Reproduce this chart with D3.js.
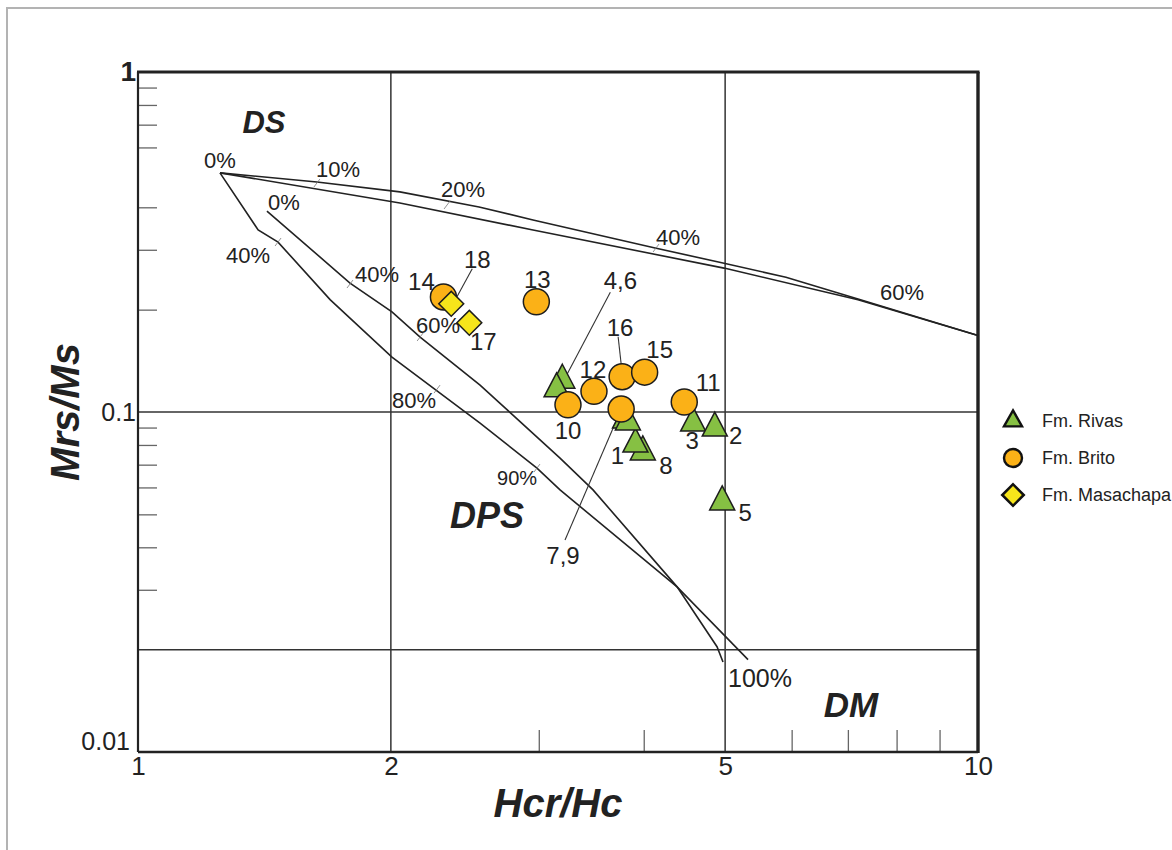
<!DOCTYPE html>
<html>
<head>
<meta charset="utf-8">
<script src="https://cdn.jsdelivr.net/npm/d3@7"></script>
<style>
  body { margin: 0; background: #fff; }
  text { font-family: "Liberation Sans", Arial, sans-serif; fill: #222; }
</style>
</head>
<body>
<div id="chart"></div>
<script>
// ---- data (Hcr/Hc, Mrs/Ms) ----
const xMinorTicks = [3, 4, 6, 7, 8, 9];
const yMinorTicks = [0.9, 0.8, 0.7, 0.6, 0.4, 0.3, 0.2, 0.09, 0.08, 0.07, 0.06, 0.05, 0.04, 0.03];
const xTickLabels = [1, 2, 5, 10];
const yTickLabels = [1, 0.1, 0.01];
const xGrid = [2, 5];
const yGrid = [0.1, 0.02];

// mixing curves
const sdSpUpper = [[1.252, 0.505], [1.633, 0.475], [2.050, 0.444], [2.547, 0.401], [2.953, 0.367],
  [4.114, 0.304], [4.985, 0.274], [5.907, 0.249], [7.197, 0.215], [10, 0.168]];
const sdSpLower = [[1.252, 0.505], [2.050, 0.412], [2.953, 0.343], [4.985, 0.265], [7.197, 0.214], [10, 0.168]];
const sdMdOuter = [[1.252, 0.505], [1.390, 0.343], [1.468, 0.316], [1.693, 0.214], [2.006, 0.145],
  [2.554, 0.0928], [2.985, 0.0684], [3.180, 0.0590], [4.383, 0.0306], [5.324, 0.0187]];
const sdMdInner = [[1.424, 0.390], [1.788, 0.2395], [2.006, 0.197], [2.167, 0.166], [2.554, 0.120],
  [2.698, 0.106], [3.180, 0.0732], [3.481, 0.0590], [4.383, 0.0306], [4.890, 0.0204], [4.971, 0.0184]];

// percent marks along the curves
const pctText = ["0%", "10%", "20%", "40%", "60%", "0%", "40%", "40%", "60%", "80%", "90%", "100%"];
const pctX = [1.252, 1.730, 2.438, 4.394, 8.122, 1.492, 1.352, 1.926, 2.276, 2.131, 2.827, 5.502];
const pctY = [0.522, 0.491, 0.429, 0.310, 0.214, 0.393, 0.274, 0.241, 0.171, 0.103, 0.061, 0.0155];
const pctTickX = [1.633, 2.333, 4.137, 1.468, 1.788, 2.167, 2.270, 2.985];
const pctTickY = [0.4715, 0.4063, 0.3036, 0.3162, 0.2379, 0.1662, 0.1168, 0.0684];

// domain names
const regionText = ["DS", "DPS", "DM"];
const regionX = [1.4125, 2.604, 7.06];
const regionY = [0.6615, 0.0456, 0.01268];

// samples
const rivasIds = ["8", "1", "4", "6", "7", "9", "3", "2", "5"];
const rivasHcrHc = [3.99, 3.91, 3.20, 3.15, 3.80, 3.83, 4.58, 4.86, 4.96];
const rivasMrsMs = [0.0763, 0.0805, 0.124, 0.117, 0.0947, 0.0935, 0.0928, 0.0897, 0.0544];

const britoIds = ["14", "13", "10", "12", "16", "15", "11", ""];
const britoHcrHc = [2.31, 2.98, 3.25, 3.49, 3.77, 4.01, 4.47, 3.76];
const britoMrsMs = [0.218, 0.211, 0.105, 0.115, 0.127, 0.131, 0.107, 0.102];

const masaIds = ["18", "17"];
const masaHcrHc = [2.36, 2.48];
const masaMrsMs = [0.208, 0.183];

const labelTexts = ["1", "2", "3", "4,6", "5", "7,9", "8", "10", "11", "12", "13", "14", "15", "16", "17", "18"];
const labelAnchors = ["1", "2", "3", "4", "5", "7", "8", "10", "11", "12", "13", "14", "15", "16", "17", "18"];

const legendNames = ["Fm. Rivas", "Fm. Brito", "Fm. Masachapa"];

// ---- layout ----
const width = 1172, height = 850;
const x = d3.scaleLog().domain([1, 10]).range([138, 978]);
const y = d3.scaleLog().domain([0.01, 1]).range([752, 72]);

const colRivas = "#86c043", colBrito = "#fbb117", colMasa = "#f6e51b";

// label offsets in px from the anchor sample (text centre, baseline)
const labelOffset = {
  "1": [-18, 20], "2": [21, 16], "3": [-1, 26], "4,6": [58, -91], "5": [23, 19], "7,9": [-62, 144],
  "8": [23, 22], "10": [0, 34], "11": [24, -11], "12": [-1, -13], "13": [1, -14], "14": [-22, -7],
  "15": [15, -14], "16": [-2, -41], "17": [14, 27], "18": [26, -36]
};
const leaders = {
  "4,6": [[0, 3], [48, -88]],
  "7,9": [[-5, -8], [-60, 120]],
  "16": [[0, -4], [-4, -40]],
  "18": [[3, -2], [21, -35]]
};

const svg = d3.select("#chart").append("svg")
  .attr("width", width)
  .attr("height", height);

// outer picture frame
svg.append("rect")
  .attr("x", 7).attr("y", 8)
  .attr("width", 1300).attr("height", 1000)
  .attr("fill", "none")
  .attr("stroke", "#b3b3b3")
  .attr("stroke-width", 2);

// grid lines
svg.append("g").selectAll("line")
  .data(xGrid)
  .join("line")
    .attr("x1", d => x(d)).attr("x2", d => x(d))
    .attr("y1", y(1)).attr("y2", y(0.01))
    .attr("stroke", "#333").attr("stroke-width", 1.5);

svg.append("g").selectAll("line")
  .data(yGrid)
  .join("line")
    .attr("x1", x(1)).attr("x2", x(10))
    .attr("y1", d => y(d)).attr("y2", d => y(d))
    .attr("stroke", "#333").attr("stroke-width", 1.5);

// minor ticks, pointing inwards
svg.append("g")
  .attr("transform", `translate(0,${y(0.01)})`)
  .call(d3.axisBottom(x).tickValues(xMinorTicks).tickSize(-22).tickFormat(""))
  .call(g => g.select(".domain").remove())
  .call(g => g.selectAll("line").attr("stroke", "#666").attr("stroke-width", 1.3));

svg.append("g")
  .attr("transform", `translate(${x(1)},0)`)
  .call(d3.axisLeft(y).tickValues(yMinorTicks).tickSize(-19).tickFormat(""))
  .call(g => g.select(".domain").remove())
  .call(g => g.selectAll("line").attr("stroke", "#666").attr("stroke-width", 1.3));

// tick labels
svg.append("g")
  .attr("transform", `translate(0,${y(0.01)})`)
  .call(d3.axisBottom(x).tickValues(xTickLabels).tickSize(0).tickPadding(5).tickFormat(d => String(d)))
  .call(g => g.select(".domain").remove())
  .call(g => g.selectAll("text").attr("font-size", 26).attr("fill", "#222")
    .attr("font-family", '"Liberation Sans", Arial, sans-serif'));

svg.append("g")
  .attr("transform", `translate(${x(1)},0)`)
  .call(d3.axisLeft(y).tickValues(yTickLabels).tickSize(0).tickPadding(2).tickFormat(d => String(d)))
  .call(g => g.select(".domain").remove())
  .call(g => g.selectAll("text").attr("font-size", 25).attr("fill", "#222")
    .attr("font-family", '"Liberation Sans", Arial, sans-serif'))
  .call(g => g.selectAll("text").filter(d => d === 1).attr("font-size", 28).attr("font-weight", "bold"))
  .call(g => g.selectAll("text").filter(d => d === 0.01).attr("x", -8).attr("dy", "-0.12em"));

// plot frame
const frame = svg.append("g").attr("stroke", "#222").attr("fill", "none");
frame.append("line").attr("x1", x(1)).attr("x2", x(1)).attr("y1", y(1)).attr("y2", y(0.01)).attr("stroke-width", 2.2);
frame.append("line").attr("x1", x(1)).attr("x2", x(10)).attr("y1", y(0.01)).attr("y2", y(0.01)).attr("stroke-width", 2.6);
frame.append("line").attr("x1", x(1) - 1).attr("x2", x(10) + 1.5).attr("y1", y(1)).attr("y2", y(1)).attr("stroke-width", 3.2);
frame.append("line").attr("x1", x(10)).attr("x2", x(10)).attr("y1", y(1)).attr("y2", y(0.01) + 1).attr("stroke-width", 3.4);

// mixing curves
const line = d3.line().x(d => x(d[0])).y(d => y(d[1]));
svg.append("g")
  .attr("fill", "none").attr("stroke", "#222").attr("stroke-width", 1.6)
  .selectAll("path")
  .data([sdSpUpper, sdSpLower, sdMdOuter, sdMdInner])
  .join("path")
    .attr("d", line);

// little slashes where the percent labels sit
svg.append("g").selectAll("line")
  .data(pctTickX.map((v, i) => [v, pctTickY[i]]))
  .join("line")
    .attr("x1", d => x(d[0]) - 3).attr("y1", d => y(d[1]) + 4)
    .attr("x2", d => x(d[0]) + 3).attr("y2", d => y(d[1]) - 4)
    .attr("stroke", "#777").attr("stroke-width", 0.8);

svg.append("g").selectAll("text")
  .data(pctText.map((t, i) => ({t, x: pctX[i], y: pctY[i]})))
  .join("text")
    .attr("x", d => x(d.x)).attr("y", d => y(d.y))
    .attr("text-anchor", "middle")
    .attr("font-size", d => d.t === "100%" ? 25 : (d.t === "90%" ? 20 : 22))
    .text(d => d.t);

// domain names
svg.append("g").selectAll("text")
  .data(regionText.map((t, i) => ({t, x: regionX[i], y: regionY[i]})))
  .join("text")
    .attr("x", d => x(d.x)).attr("y", d => y(d.y))
    .attr("text-anchor", "middle")
    .attr("font-weight", "bold").attr("font-style", "italic")
    .attr("font-size", d => d.t === "DS" ? 31 : (d.t === "DM" ? 35 : 36))
    .text(d => d.t);

// ---- samples ----
const rivas = rivasIds.map((id, i) => ({id, x: rivasHcrHc[i], y: rivasMrsMs[i]}));
const brito = britoIds.map((id, i) => ({id, x: britoHcrHc[i], y: britoMrsMs[i]}));
const masa = masaIds.map((id, i) => ({id, x: masaHcrHc[i], y: masaMrsMs[i]}));
const allSamples = rivas.concat(brito, masa);

// triangle with its centroid on 0,0
function tri(w, h) {
  return `M0,${-2 * h / 3}L${w / 2},${h / 3}L${-w / 2},${h / 3}Z`;
}

// leader lines go under the markers
svg.append("g").selectAll("line")
  .data(Object.keys(leaders))
  .join("line")
    .each(function(t) {
      const a = allSamples.find(s => s.id === labelAnchors[labelTexts.indexOf(t)]);
      const l = leaders[t];
      d3.select(this)
        .attr("x1", x(a.x) + l[0][0]).attr("y1", y(a.y) + l[0][1])
        .attr("x2", x(a.x) + l[1][0]).attr("y2", y(a.y) + l[1][1]);
    })
    .attr("stroke", "#333").attr("stroke-width", 1.1);

svg.append("g").selectAll("path")
  .data(rivas)
  .join("path")
    .attr("transform", d => `translate(${x(d.x)},${y(d.y)})`)
    .attr("d", tri(25, 24))
    .attr("fill", colRivas).attr("stroke", "#1d1d1d").attr("stroke-width", 1.5);

svg.append("g").selectAll("circle")
  .data(brito)
  .join("circle")
    .attr("cx", d => x(d.x)).attr("cy", d => y(d.y))
    .attr("r", 13)
    .attr("fill", colBrito).attr("stroke", "#1d1d1d").attr("stroke-width", 1.5);

svg.append("g").selectAll("path")
  .data(masa)
  .join("path")
    .attr("transform", d => `translate(${x(d.x)},${y(d.y)}) rotate(45)`)
    .attr("d", d3.symbol(d3.symbolSquare).size(310))
    .attr("fill", colMasa).attr("stroke", "#1d1d1d").attr("stroke-width", 1.5);

// sample numbers
svg.append("g").selectAll("text")
  .data(labelTexts)
  .join("text")
    .each(function(t, i) {
      const a = allSamples.find(s => s.id === labelAnchors[i]);
      const o = labelOffset[t];
      d3.select(this).attr("x", x(a.x) + o[0]).attr("y", y(a.y) + o[1]);
    })
    .attr("text-anchor", "middle")
    .attr("font-size", 24)
    .text(d => d);

// axis titles
svg.append("text")
  .attr("x", (x(1) + x(10)) / 2 - 0)
  .attr("y", 817)
  .attr("text-anchor", "middle")
  .attr("font-size", 40).attr("font-weight", "bold").attr("font-style", "italic")
  .text("Hcr/Hc");

svg.append("text")
  .attr("transform", `translate(79,${(y(1) + y(0.01)) / 2}) rotate(-90)`)
  .attr("text-anchor", "middle")
  .attr("font-size", 40).attr("font-weight", "bold").attr("font-style", "italic")
  .text("Mrs/Ms");

// legend
const legend = svg.append("g").attr("transform", "translate(1013,421)");
const legendRow = legend.selectAll("g")
  .data(legendNames)
  .join("g")
    .attr("transform", (d, i) => `translate(0,${i * 37})`);

legendRow.filter((d, i) => i === 0).append("path")
  .attr("d", tri(18, 16))
  .attr("fill", colRivas).attr("stroke", "#111").attr("stroke-width", 2.4);
legendRow.filter((d, i) => i === 1).append("circle")
  .attr("r", 9)
  .attr("fill", colBrito).attr("stroke", "#111").attr("stroke-width", 2.4);
legendRow.filter((d, i) => i === 2).append("path")
  .attr("transform", "rotate(45)")
  .attr("d", d3.symbol(d3.symbolSquare).size(230))
  .attr("fill", colMasa).attr("stroke", "#111").attr("stroke-width", 2.6);

legendRow.append("text")
  .attr("x", 29).attr("y", 6)
  .attr("font-size", 18)
  .text(d => d);
</script>
</body>
</html>
